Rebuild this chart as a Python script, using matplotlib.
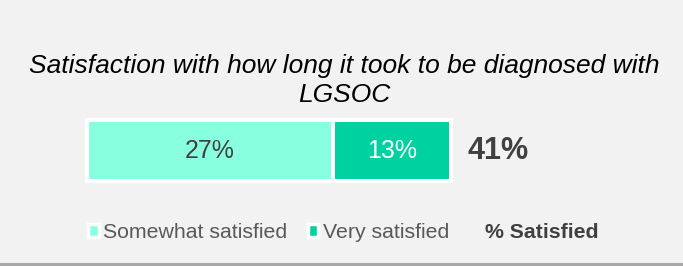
import matplotlib.pyplot as plt
from matplotlib.patches import Patch, Rectangle

plt.rcParams['font.family'] = ['Liberation Sans', 'DejaVu Sans']

title = 'Satisfaction with how long it took to be diagnosed with\nLGSOC'
categories = ['Somewhat satisfied', 'Very satisfied']
values = [27.4, 13.2]
colors = ['#88FFDF', '#00D1A0']
label_colors = ['#404040', 'white']
total_label = '% Satisfied'

W, H = 683, 266
fig = plt.figure(figsize=(W / 100, H / 100), dpi=100, facecolor='#F2F2F2')

# bottom shadow of the card
fig.patches.append(Rectangle((0, 0), 1, 3 / H, transform=fig.transFigure,
                             facecolor='#A8A8A8', edgecolor='none'))

fig.text(0.504, 1 - 80.5 / H, title, ha='center', va='center', fontsize=19,
         style='italic', color='black', linespacing=1.3)

# bar axes placed so the stacked bar sits where the reference has it
ax = fig.add_axes([87 / W, 1 - 181.5 / H, 364 / W, 61 / H])
ax.set_facecolor('none')
total = sum(values)
left = 0
for v, c, tc in zip(values, colors, label_colors):
    ax.barh(0, v, left=left, height=1, color=c, edgecolor='white',
            linewidth=2.9, clip_on=False)
    ax.text(left + v / 2, 0, f'{round(v)}%', ha='center', va='center',
            fontsize=18, color=tc)
    left += v
ax.annotate(f'{round(total)}%', xy=(total, 0), xytext=(17, 0),
            textcoords='offset pixels', ha='left', va='center',
            fontsize=22, fontweight='bold', color='#404040')
ax.set_xlim(0, total)
ax.set_ylim(-0.5, 0.5)
ax.axis('off')

handles = [Patch(facecolor=c, edgecolor='white', linewidth=2.5) for c in colors]
handles.append(Patch(facecolor='none', edgecolor='none'))
leg = fig.legend(handles, categories + [total_label], loc='center left',
                 bbox_to_anchor=(88 / W, 1 - 232.5 / H), ncol=3, frameon=False,
                 fontsize=15.3, handlelength=0.5, handleheight=0.5,
                 handletextpad=0.22, columnspacing=0.95, borderpad=0,
                 borderaxespad=0)
for t in leg.get_texts():
    t.set_color('#595959')
leg.get_texts()[2].set_fontweight('bold')
leg.get_texts()[2].set_color('#404040')

fig.savefig('out.png', dpi=100, facecolor=fig.get_facecolor())
